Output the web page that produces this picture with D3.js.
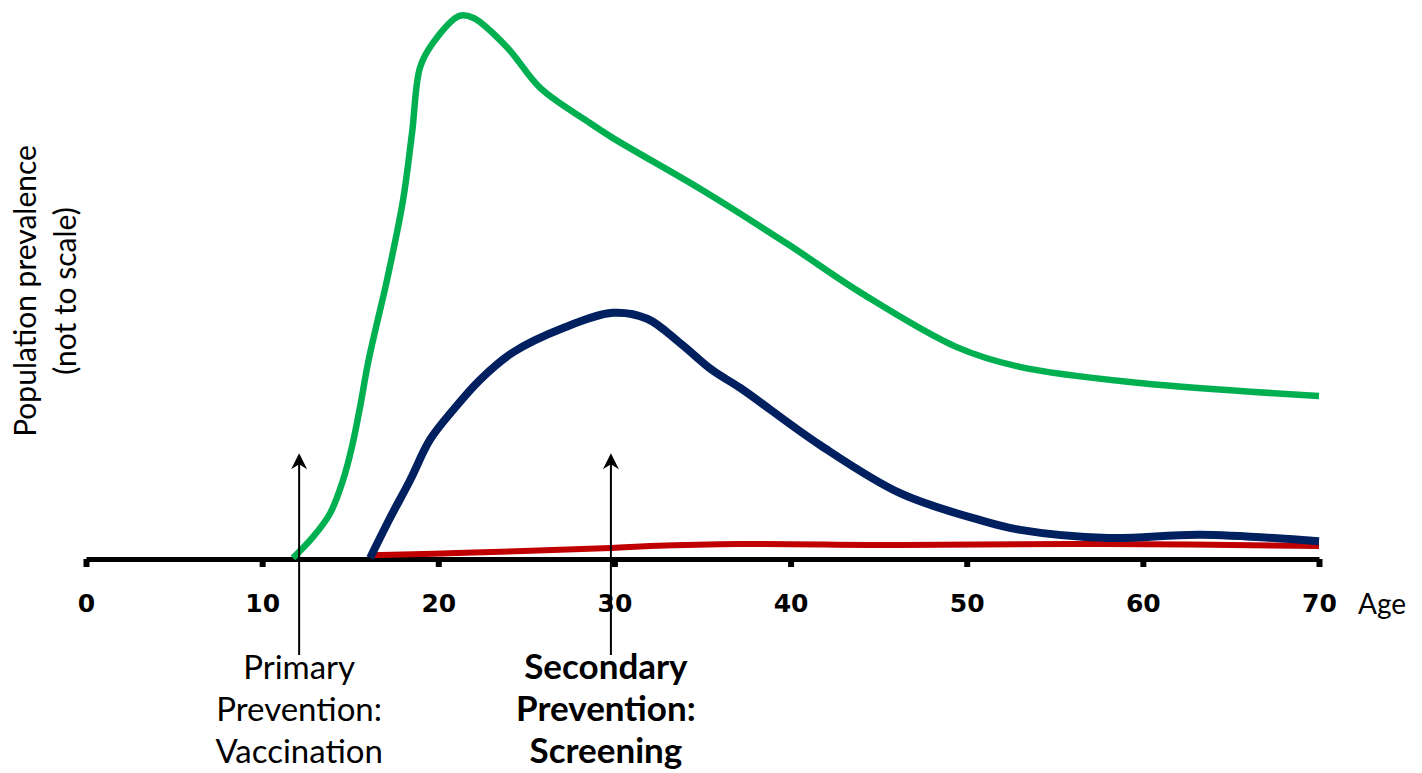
<!DOCTYPE html>
<html>
<head>
<meta charset="utf-8">
<script src="https://cdn.jsdelivr.net/npm/d3@7"></script>
<style>
  html, body { margin: 0; padding: 0; background: #fff; }
  svg { display: block; }
</style>
</head>
<body>
<svg id="chart" width="1422" height="773"></svg>
<script>
// ---- data ----
const xTicks = [0, 10, 20, 30, 40, 50, 60, 70];
const greenSeries = [
  [11.75, 0], [12.89, 3.9], [13.86, 8.3], [14.59, 14.4], [15.1, 20.6], [15.56, 28.0],
  [16.01, 36.1], [16.52, 43.5], [17.09, 51.5], [18.0, 66.3], [18.51, 78.7],
  [18.97, 90.9], [19.7, 95.4], [21.2, 100.4], [22.0, 100], [23.9, 94.6],
  [25.8, 87], [28.45, 80.9], [29.9, 77.8], [35.0, 68.1], [39.9, 58], [44.0, 49.1],
  [49.4, 39.1], [53.0, 35.4], [59.85, 32.4], [70, 30]
];
const blueSeries = [
  [16.13, 0], [17.26, 7.4], [18.4, 14.4], [19.53, 21.9], [20.84, 27.4], [22.37, 33.0],
  [24.25, 38.1], [27.09, 42.6], [29.93, 45.4], [31.86, 44.3], [33.73, 39.8],
  [35.55, 34.8], [37.14, 31.5], [41.68, 20.9], [46.22, 12.0], [50.77, 7.0], [53.04, 5.2],
  [58.04, 3.7], [63.26, 4.3], [70, 3.1]
];
const redSeries = [
  [16.13, 0.5], [22, 1.0], [29.8, 1.85], [32.0, 2.2], [37.14, 2.6], [46.2, 2.4],
  [57.6, 2.6], [70, 2.2]
];
const arrowAges = [12.1, 29.8];
const arrowTipValue = 19.4;
const arrowLabels = [
  ["Primary", "Prevention:", "Vaccination"],
  ["Secondary", "Prevention:", "Screening"]
];
const arrowLabelBold = [false, true];
const yLabelLines = ["Population prevalence", "(not to scale)"];
const xLabel = "Age";

// ---- layout ----
const svg = d3.select("#chart");
const x = d3.scaleLinear().domain([0, 70]).range([86, 1319]);
const y = d3.scaleLinear().domain([0, 100]).range([558, 18]);
const axisY = 559;

// axis
const axis = d3.axisBottom(x)
  .tickValues(xTicks)
  .tickSize(8)
  .tickSizeOuter(0)
  .tickPadding(27)
  .tickFormat(d3.format("d"));
const gAxis = svg.append("g")
  .attr("transform", `translate(0,${axisY})`)
  .call(axis);
gAxis.select(".domain").attr("stroke", "#000").attr("stroke-width", 5);
gAxis.selectAll(".tick line").attr("stroke", "#000").attr("stroke-width", 6);
gAxis.selectAll(".tick text")
  .attr("fill", "#000")
  .style("font-family", "'DejaVu Sans', sans-serif")
  .style("font-weight", "bold")
  .style("font-size", "25px");

// curves
const line = d3.line()
  .x(d => x(d[0]))
  .y(d => y(d[1]))
  .curve(d3.curveCatmullRom.alpha(0.5));

svg.append("path").datum(redSeries)
  .attr("d", line).attr("fill", "none")
  .attr("stroke", "#C00000").attr("stroke-width", 6);
svg.append("path").datum(blueSeries)
  .attr("d", line).attr("fill", "none")
  .attr("stroke", "#002060").attr("stroke-width", 8);
svg.append("path").datum(greenSeries)
  .attr("d", line).attr("fill", "none")
  .attr("stroke", "#00B050").attr("stroke-width", 6.5);

// arrows
const arrowBottom = 655;
const labelSizes = [33, 35];
arrowAges.forEach((a, i) => {
  const ax = x(a);
  const ty = y(arrowTipValue);
  svg.append("line")
    .attr("x1", ax).attr("x2", ax)
    .attr("y1", ty + 8).attr("y2", arrowBottom)
    .attr("stroke", "#000").attr("stroke-width", 2);
  svg.append("path")
    .attr("d", `M${ax},${ty} L${ax - 8},${ty + 16} L${ax},${ty + 11} L${ax + 8},${ty + 16} Z`)
    .attr("fill", "#000");
  const tx = ax - (i === 1 ? 5 : 0);
  const t = svg.append("text")
    .attr("x", tx)
    .attr("text-anchor", "middle")
    .style("font-family", "Lato, sans-serif")
    .style("font-size", labelSizes[i] + "px")
    .style("font-weight", arrowLabelBold[i] ? "bold" : "normal")
    .attr("fill", "#000");
  arrowLabels[i].forEach((s, j) => {
    t.append("tspan").attr("x", tx).attr("y", 679 + j * 42).text(s);
  });
});

// y label
yLabelLines.forEach((s, i) => {
  svg.append("text")
    .attr("transform", `translate(${36 + i * 40},291) rotate(-90)`)
    .attr("text-anchor", "middle")
    .style("font-family", "Lato, sans-serif")
    .style("font-size", "30px")
    .attr("fill", "#000")
    .text(s);
});

// x label
svg.append("text")
  .attr("x", 1358).attr("y", 614)
  .style("font-family", "Lato, sans-serif")
  .style("font-size", "28px")
  .attr("fill", "#000")
  .text(xLabel);
</script>
</body>
</html>
